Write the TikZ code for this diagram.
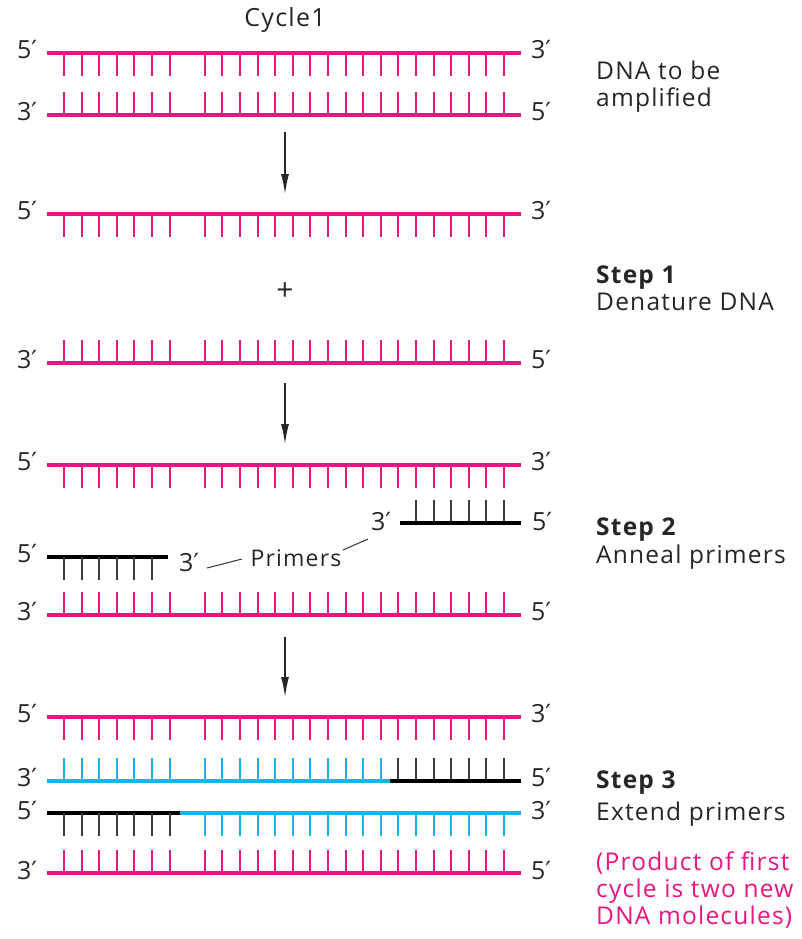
\documentclass[tikz,border=0pt]{standalone}
\usepackage{fontspec}
\setmainfont{Open Sans}
\newfontfamily\sidefont[LetterSpace=5]{Open Sans}
\newfontfamily\dvfont{DejaVu Sans}
\usetikzlibrary{arrows.meta}
\definecolor{dnapink}{RGB}{232,22,128}
\definecolor{dnablue}{RGB}{30,178,232}
\definecolor{dnagrey}{RGB}{60,60,60}
\newcommand\pp{{\dvfont ′}}
% ticks: colour, y start, y end, first index, last index
\newcommand\dnaticks[5]{%
  \foreach \i in {#4,...,#5}{%
    \ifnum\i=7\relax\else
      \draw[tickline,#1] ({64+17.6*\i},#2) -- ({64+17.6*\i},#3);
    \fi}}
\begin{document}
\begin{tikzpicture}[x=1pt,y=-1pt,
  strand/.style={line width=4pt},
  tickline/.style={line width=1.9pt},
  lab/.style={font=\fontsize{25}{28}\selectfont,inner sep=0pt,text=black!85},
  side/.style={font=\sidefont\fontsize{24.5}{28}\selectfont,inner sep=0pt,anchor=base west,text=black!85},
  sidebold/.style={side,font=\sidefont\fontsize{24.5}{28}\selectfont\bfseries},
  flow/.style={line width=1.4pt,draw=black!85,-{Latex[length=20pt,width=8pt]}},
  leader/.style={line width=1pt,draw=black!80}]
\useasboundingbox (0,0) rectangle (801,939);
\fill[white] (0,0) rectangle (801,939);

\node[lab,anchor=base,font=\sidefont\fontsize{25}{28}\selectfont] (cycle) at (285,27) {Cycle1};

% ---------- Row 1 ----------
\draw[strand,dnapink] (47,53) -- (521,53);
\dnaticks{dnapink}{53}{76}{0}{25}
\dnaticks{dnapink}{92}{115}{0}{25}
\draw[strand,dnapink] (47,115) -- (521,115);
\node[lab] (r1a) at (27,50) {5\pp};
\node[lab] (r1b) at (541,50) {3\pp};
\node[lab] (r1c) at (27,112) {3\pp};
\node[lab] (r1d) at (541,112) {5\pp};
\node[side] (t1) at (596,80) {DNA to be};
\node[side] (t2) at (596,107) {amplified};

\coordinate (a1s) at (285,132);
\coordinate (a1e) at (285,194);
\draw[flow] (a1s) -- (a1e);

% ---------- Row 2 ----------
\draw[strand,dnapink] (47,214) -- (521,214);
\dnaticks{dnapink}{214}{237}{0}{25}
\node[lab] (r2a) at (27,211) {5\pp};
\node[lab] (r2b) at (541,211) {3\pp};
\node[lab,font=\fontsize{30}{32}\selectfont] (plus) at (285,292) {+};
\dnaticks{dnapink}{340}{363}{0}{25}
\draw[strand,dnapink] (47,363) -- (521,363);
\node[lab] (r2c) at (27,360) {3\pp};
\node[lab] (r2d) at (541,360) {5\pp};
\node[sidebold] (s1) at (596,283) {Step 1};
\node[side] (s1b) at (596,310) {Denature DNA};

\coordinate (a2s) at (285,383);
\coordinate (a2e) at (285,444);
\draw[flow] (a2s) -- (a2e);

% ---------- Row 3 ----------
\draw[strand,dnapink] (47,465) -- (521,465);
\dnaticks{dnapink}{465}{488}{0}{25}
\node[lab] (r3a) at (27,462) {5\pp};
\node[lab] (r3b) at (541,462) {3\pp};
% right primer
\dnaticks{dnagrey}{500}{523}{20}{25}
\draw[strand,black] (400,523) -- (521,523);
\node[lab] (p1a) at (381,522) {3\pp};
\node[lab] (p1b) at (542,522) {5\pp};
% left primer
\draw[strand,black] (47,557) -- (168,557);
\dnaticks{dnagrey}{557}{580}{0}{5}
\node[lab] (p2a) at (27,554) {5\pp};
\node[lab] (p2b) at (189,563) {3\pp};
\node[lab,font=\sidefont\fontsize{23}{26}\selectfont] (prim) at (296,558) {Primers};
\coordinate (l1s) at (207,568);
\coordinate (l1e) at (242,559);
\coordinate (l2s) at (343,550);
\coordinate (l2e) at (368,539);
\draw[leader] (l1s) -- (l1e);
\draw[leader] (l2s) -- (l2e);
\dnaticks{dnapink}{592}{615}{0}{25}
\draw[strand,dnapink] (47,615) -- (521,615);
\node[lab] (r3c) at (27,612) {3\pp};
\node[lab] (r3d) at (541,612) {5\pp};
\node[sidebold] (s2) at (596,535) {Step 2};
\node[side] (s2b) at (596,563) {Anneal primers};

\coordinate (a3s) at (285,637);
\coordinate (a3e) at (285,697);
\draw[flow] (a3s) -- (a3e);

% ---------- Row 4 ----------
\draw[strand,dnapink] (47,717) -- (521,717);
\dnaticks{dnapink}{717}{740}{0}{25}
\node[lab] (r4a) at (27,714) {5\pp};
\node[lab] (r4b) at (541,714) {3\pp};
% new strand (blue + primer)
\dnaticks{dnablue}{758}{781}{0}{18}
\dnaticks{dnagrey}{758}{781}{19}{25}
\draw[strand,dnablue] (47,781) -- (390,781);
\draw[strand,black] (390,781) -- (521,781);
\node[lab] (r4c) at (27,778) {3\pp};
\node[lab] (r4d) at (541,778) {5\pp};
% new strand (primer + blue)
\draw[strand,black] (47,813) -- (180,813);
\draw[strand,dnablue] (180,813) -- (521,813);
\dnaticks{dnagrey}{813}{836}{0}{6}
\dnaticks{dnablue}{813}{836}{8}{25}
\node[lab] (r4e) at (27,810) {5\pp};
\node[lab] (r4f) at (541,810) {3\pp};
\dnaticks{dnapink}{850}{873}{0}{25}
\draw[strand,dnapink] (47,873) -- (521,873);
\node[lab] (r4g) at (27,870) {3\pp};
\node[lab] (r4h) at (541,870) {5\pp};
\node[sidebold] (s3) at (596,788) {Step 3};
\node[side] (s3b) at (596,820) {Extend primers};
\node[side,text=dnapink] (n1) at (596,870) {(Product of first};
\node[side,text=dnapink] (n2) at (596,897) {cycle is two new};
\node[side,text=dnapink] (n3) at (596,924) {DNA molecules)};
\end{tikzpicture}
\end{document}
